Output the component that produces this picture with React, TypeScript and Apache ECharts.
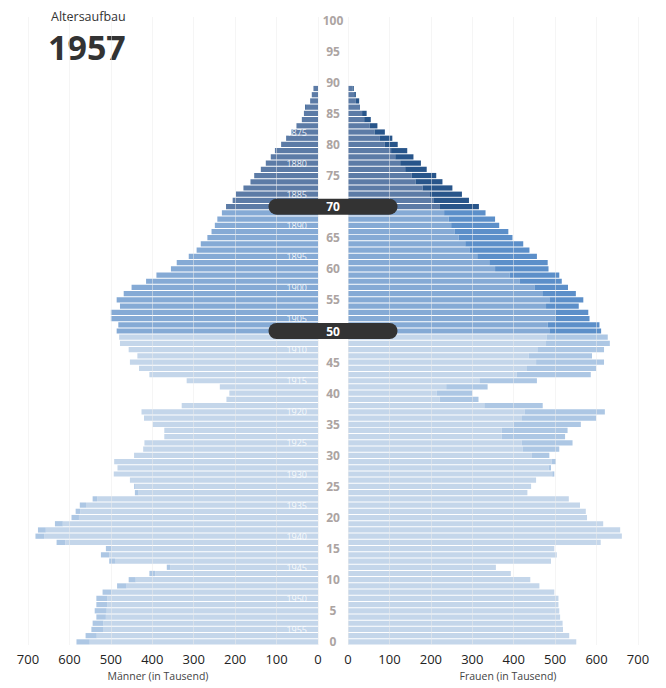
import React, { useEffect, useRef } from "react";
import * as echarts from "echarts";

const YEAR = 1957;
const FONT = "'Open Sans', 'Noto Sans', sans-serif";
const AGES: string[] = Array.from({ length: 101 }, (_, i) => String(i));

// Männer (in Tausend), Alter 0..89
const MEN = [
  583, 561, 547, 544, 535, 539, 535, 535, 520, 485,
  457, 407, 365, 504, 524, 512, 631, 682, 676, 635,
  595, 585, 575, 544, 442, 444, 454, 493, 484, 492,
  444, 422, 419, 371, 371, 399, 420, 426, 329, 221,
  214, 237, 317, 407, 432, 454, 436, 457, 478, 480,
  486, 482, 500, 500, 478, 486, 469, 450, 415, 390,
  355, 341, 312, 293, 283, 267, 257, 249, 243, 232,
  222, 206, 198, 180, 163, 154, 138, 126, 114, 104,
  89, 77, 64, 52, 39, 34, 31, 19, 15, 11,
];

// Frauen (in Tausend), Alter 0..89
const WOMEN = [
  551, 534, 519, 518, 512, 510, 508, 508, 498, 462,
  440, 393, 357, 490, 504, 498, 610, 661, 657, 616,
  577, 574, 560, 533, 433, 442, 454, 498, 490, 502,
  486, 510, 542, 524, 530, 562, 599, 620, 470, 315,
  300, 337, 456, 586, 599, 618, 589, 618, 632, 627,
  611, 607, 583, 580, 557, 568, 550, 531, 516, 510,
  484, 482, 456, 438, 423, 397, 387, 365, 355, 332,
  316, 292, 275, 252, 228, 213, 190, 176, 158, 143,
  120, 107, 89, 71, 55, 45, 29, 27, 19, 14,
];

const HIGHLIGHT_AGES = [50, 70];

const PALETTE = {
  young: { base: "#c4d6ea", surplus: "#adc7e4" },
  mid: { base: "#85aad5", surplus: "#5c8fc9" },
  old: { base: "#5c7ba6", surplus: "#28558a" },
};

function colorsFor(age: number) {
  if (age >= 70) return PALETTE.old;
  if (age >= 50) return PALETTE.mid;
  return PALETTE.young;
}

export default function App() {
  const ref = useRef<HTMLDivElement>(null);

  useEffect(() => {
    if (!ref.current) return;
    const chart = echarts.init(ref.current, undefined, { renderer: "svg" });

    const common = MEN.map((m, i) => Math.min(m, WOMEN[i]));
    const menBase = common.map((v, i) => ({ value: v, itemStyle: { color: colorsFor(i).base } }));
    const menSur = MEN.map((m, i) => ({ value: m - common[i], itemStyle: { color: colorsFor(i).surplus } }));
    const womenBase = common.map((v, i) => ({ value: v, itemStyle: { color: colorsFor(i).base } }));
    const womenSur = WOMEN.map((f, i) => ({ value: f - common[i], itemStyle: { color: colorsFor(i).surplus } }));

    const xAxisCommon = {
      type: "value",
      min: 0,
      max: 700,
      interval: 100,
      z: 5,
      axisLine: { show: false },
      axisTick: { show: false },
      axisLabel: { color: "#222", fontSize: 13, margin: 7, fontFamily: FONT },
      splitLine: { show: true, lineStyle: { color: "rgba(236,236,236,0.5)", width: 1 } },
      nameLocation: "middle",
      nameGap: 25,
    };

    const barCommon = {
      type: "bar",
      barCategoryGap: "16%",
      silent: true,
    };

    chart.setOption({
      animation: false,
      textStyle: { fontFamily: FONT },
      grid: [
        { left: 28, width: 290, top: 17, height: 628 },
        { left: 348, width: 290, top: 17, height: 628 },
      ],
      xAxis: [
        {
          ...xAxisCommon,
          gridIndex: 0,
          inverse: true,
          name: "Männer (in Tausend)",
          nameTextStyle: { color: "#444", fontSize: 10.5, fontFamily: FONT, padding: [0, 30, 0, 0] },
        },
        {
          ...xAxisCommon,
          gridIndex: 1,
          name: "Frauen (in Tausend)",
          nameTextStyle: { color: "#444", fontSize: 10.5, fontFamily: FONT, padding: [0, 0, 0, 30] },
        },
      ],
      yAxis: [
        {
          gridIndex: 0,
          type: "category",
          data: AGES,
          position: "right",
          z: 6,
          axisLine: { show: false },
          axisTick: { show: false },
          splitLine: { show: false },
          axisLabel: {
            inside: true,
            margin: 11,
            interval: (i: number) => i % 5 === 2 && i <= 82,
            formatter: (v: string) => String(YEAR - Number(v)),
            color: "rgba(255,255,255,0.88)",
            fontSize: 9,
            fontFamily: FONT,
          },
        },
        {
          gridIndex: 1,
          type: "category",
          data: AGES,
          position: "left",
          z: 10,
          axisLine: { show: false },
          axisTick: { show: false },
          splitLine: { show: false },
          axisLabel: {
            margin: 15,
            align: "center",
            interval: (i: number) => i % 5 === 0,
            formatter: (v: string) =>
              HIGHLIGHT_AGES.includes(Number(v)) ? `{pill|${v}}` : v,
            color: "#aca4a2",
            fontWeight: "bold",
            fontSize: 12,
            fontFamily: FONT,
            rich: {
              pill: {
                backgroundColor: "#333333",
                color: "#ffffff",
                borderRadius: 8,
                width: 129,
                height: 16,
                lineHeight: 16,
                align: "center",
                fontWeight: "bold",
                fontSize: 12,
                fontFamily: FONT,
              },
            },
          },
        },
      ],
      series: [
        { ...barCommon, name: "Männer", xAxisIndex: 0, yAxisIndex: 0, stack: "m", data: menBase },
        { ...barCommon, name: "Männerüberschuss", xAxisIndex: 0, yAxisIndex: 0, stack: "m", data: menSur },
        { ...barCommon, name: "Frauen", xAxisIndex: 1, yAxisIndex: 1, stack: "f", data: womenBase },
        { ...barCommon, name: "Frauenüberschuss", xAxisIndex: 1, yAxisIndex: 1, stack: "f", data: womenSur },
      ],
      graphic: [
        {
          type: "text",
          left: 51,
          top: 10,
          style: { text: "Altersaufbau", fontSize: 12.5, lineHeight: 13, fill: "#333", fontFamily: FONT },
        },
        {
          type: "text",
          left: 48,
          top: 30,
          style: { text: String(YEAR), fontSize: 34, lineHeight: 24, fontWeight: "bold", fill: "#333", fontFamily: FONT },
        },
      ],
    });

    return () => chart.dispose();
  }, []);

  return (
    <div
      ref={ref}
      style={{ position: "absolute", left: 0, top: 0, width: 666, height: 688 }}
    />
  );
}
